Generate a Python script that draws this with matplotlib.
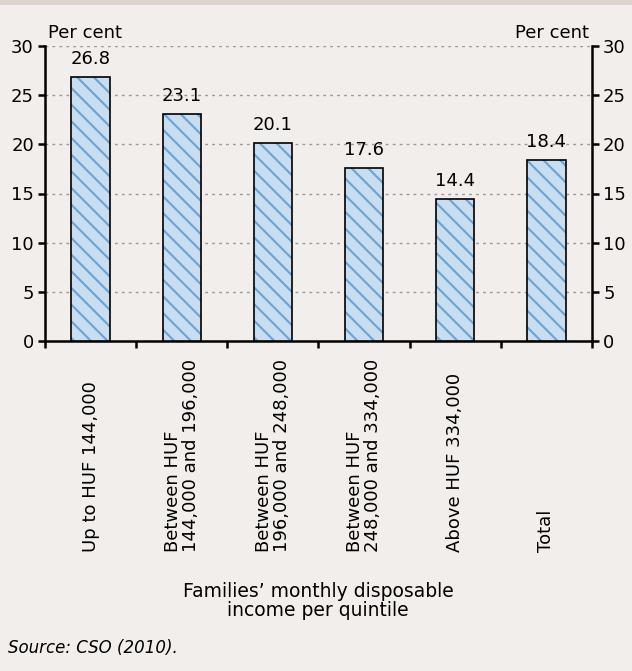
import matplotlib
matplotlib.use("Agg")
import matplotlib.pyplot as plt
from matplotlib.patches import Rectangle

categories = [
    "Up to HUF 144,000",
    "Between HUF\n144,000 and 196,000",
    "Between HUF\n196,000 and 248,000",
    "Between HUF\n248,000 and 334,000",
    "Above HUF 334,000",
    "Total",
]
values = [26.8, 23.1, 20.1, 17.6, 14.4, 18.4]
y_ticks = [0, 5, 10, 15, 20, 25, 30]

bg = "#f1eeeb"
fill = "#c9ddf0"
hatch_col = "#6aa3d6"
fs = 13

plt.rcParams["font.family"] = ["DejaVu Sans"]
plt.rcParams["hatch.linewidth"] = 1.5

fig = plt.figure(figsize=(6.32, 6.71), dpi=100, facecolor=bg)
fig.patches.append(Rectangle((0, 1 - 5 / 671), 1, 5 / 671, transform=fig.transFigure,
                             facecolor="#ddd5cb", edgecolor="none"))

ax = fig.add_axes([45 / 632, 1 - 341 / 671, 547 / 632, 295 / 671])
ax.set_facecolor(bg)

x = list(range(len(categories)))
# hatched fill first, then the black outline on top
ax.bar(x, values, width=0.42, color=fill, edgecolor=hatch_col, hatch="\\\\", linewidth=0, zorder=3)
ax.bar(x, values, width=0.42, color="none", edgecolor="black", linewidth=1.2, zorder=4)

for xi, v in zip(x, values):
    ax.annotate(f"{v:.1f}", xy=(xi, v), xytext=(0, 6.5), textcoords="offset points",
                ha="center", va="bottom", fontsize=fs, zorder=5)

ax.set_xlim(-0.5, len(categories) - 0.5)
ax.set_ylim(0, 30)
ax.set_yticks(y_ticks)
ax.yaxis.grid(True, color="#999999", linestyle=(0, (2, 3)), linewidth=1)
ax.set_axisbelow(True)

for side in ["left", "right", "bottom"]:
    ax.spines[side].set_linewidth(1.8)
ax.spines["top"].set_visible(False)

ax.tick_params(axis="y", which="both", left=True, right=True, labelleft=True, labelright=True,
               direction="out", length=5, width=1.8, labelsize=fs, pad=3)

# x ticks sit on the category boundaries
ax.set_xticks([i - 0.5 for i in range(len(categories) + 1)])
ax.set_xticklabels([])
ax.tick_params(axis="x", direction="out", length=5, width=1.8)

for xi, label in zip(x, categories):
    ax.annotate(label, xy=(xi, 0), xycoords=("data", "axes fraction"),
                xytext=(0, -211), textcoords="offset pixels", rotation=90,
                ha="center", va="bottom", multialignment="left", fontsize=fs,
                linespacing=1.0)

ax.text(0.005, 1.015, "Per cent", transform=ax.transAxes, ha="left", va="bottom", fontsize=fs)
ax.text(0.995, 1.015, "Per cent", transform=ax.transAxes, ha="right", va="bottom", fontsize=fs)

fig.text(318 / 632, 1 - 601 / 671, "Families\u2019 monthly disposable\nincome per quintile",
         ha="center", va="center", fontsize=13.5, linespacing=1.05)
fig.text(8 / 632, 1 - 648 / 671, "Source: CSO (2010).", style="italic",
         ha="left", va="center", fontsize=12)

fig.savefig("out.png", dpi=100, facecolor=bg)
